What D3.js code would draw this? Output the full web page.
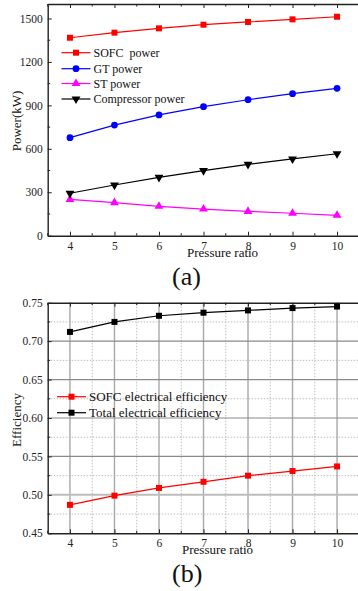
<!DOCTYPE html>
<html>
<head>
<meta charset="utf-8">
<script src="https://cdn.jsdelivr.net/npm/d3@7"></script>
<style>
  body { margin: 0; background: #fff; }
  svg, svg text { font-family: "Liberation Serif", "Times New Roman", Times, serif; }
  svg { display: block; }
</style>
</head>
<body>
<svg id="chart" width="358" height="591"></svg>
<script>
// pressure ratios shared by both panels
var ratios = [4, 5, 6, 7, 8, 9, 10];

// panel (a): power in kW
var sofcPower = [1367, 1402, 1432, 1457, 1476, 1494, 1512];
var gtPower = [677, 764, 834, 891, 939, 981, 1018];
var stPower = [251, 228, 203, 184, 168, 155, 141];
var compPower = [293, 350, 403, 449, 493, 530, 566];
var powerTicks = [0, 300, 600, 900, 1200, 1500];

// panel (b): efficiency
var sofcEff = [0.487, 0.499, 0.509, 0.517, 0.525, 0.531, 0.537];
var totalEff = [0.712, 0.725, 0.733, 0.737, 0.740, 0.743, 0.745];
var effTicks = [0.45, 0.50, 0.55, 0.60, 0.65, 0.70, 0.75];

var svg = d3.select('#chart');
var serif = '"Liberation Serif", "Times New Roman", Times, serif';

function markerPath(shape, size) {
  if (shape === 'square') return d3.symbol().type(d3.symbolSquare).size(size)();
  if (shape === 'circle') return d3.symbol().type(d3.symbolCircle).size(size)();
  // triangle (down one is rotated)
  return d3.symbol().type(d3.symbolTriangle).size(size)();
}

function drawSeries(g, vals, x, y, color, shape, size) {
  var line = d3.line()
    .x(function(d, i) { return x(ratios[i]); })
    .y(function(d) { return y(d); });
  g.append('path')
    .datum(vals)
    .attr('fill', 'none')
    .attr('stroke', color)
    .attr('stroke-width', 1.2)
    .attr('d', line);
  g.selectAll(null)
    .data(vals)
    .enter().append('path')
    .attr('d', markerPath(shape, size))
    .attr('fill', color)
    .attr('transform', function(d, i) {
      var r = shape === 'down' ? ' rotate(180)' : '';
      return 'translate(' + x(ratios[i]) + ',' + y(d) + ')' + r;
    });
}

function legendItem(g, lx, ly, text, color, shape, size, fs) {
  g.append('line')
    .attr('x1', lx).attr('x2', lx + 29)
    .attr('y1', ly).attr('y2', ly)
    .attr('stroke', color).attr('stroke-width', 1.2);
  g.append('path')
    .attr('d', markerPath(shape, size))
    .attr('fill', color)
    .attr('transform', 'translate(' + (lx + 14.5) + ',' + ly + ')' + (shape === 'down' ? ' rotate(180)' : ''));
  g.append('text')
    .attr('x', lx + 32)
    .attr('y', ly + 4)
    .attr('font-size', fs)
    .attr('font-family', serif)
    .attr('fill', '#111')
    .style('white-space', 'pre')
    .text(text);
}

function styleAxis(g) {
  g.attr('font-family', serif);
  g.select('.domain').attr('stroke', '#222').attr('stroke-width', 1.4);
  g.selectAll('.tick line').attr('stroke', '#222').attr('stroke-width', 1);
  g.selectAll('.tick text').attr('font-size', 11.5).attr('fill', '#222')
    .attr('font-family', serif);
}

function minorTicks(g, positions, orient, len) {
  positions.forEach(function(p) {
    if (orient === 'h') {
      g.append('line').attr('x1', p).attr('x2', p).attr('y1', 0).attr('y2', len)
        .attr('stroke', '#222').attr('stroke-width', 1);
    } else {
      g.append('line').attr('y1', p).attr('y2', p).attr('x1', 0).attr('x2', len)
        .attr('stroke', '#222').attr('stroke-width', 1);
    }
  });
}

var left = 47.7, right = 359.3;
var halfTicks = [3.5, 4.5, 5.5, 6.5, 7.5, 8.5, 9.5, 10.5];
var intFmt = d3.format('d');

// ---------- panel (a) ----------
var xa = d3.scaleLinear().domain([3.5, 10.5]).range([left, right]);
var ya = d3.scaleLinear().domain([0, 1600]).range([235.7, 4]);

var ga = svg.append('g');

var xAxisA = ga.append('g')
  .attr('transform', 'translate(0,' + ya(0) + ')')
  .call(d3.axisBottom(xa).tickValues(ratios).tickFormat(intFmt)
    .tickSizeInner(-4).tickSizeOuter(0).tickPadding(6));
styleAxis(xAxisA);
minorTicks(xAxisA, halfTicks.map(xa), 'h', -2.5);

var xTopA = ga.append('g')
  .attr('transform', 'translate(0,' + ya(1600) + ')')
  .call(d3.axisTop(xa).tickValues(ratios).tickSizeInner(-4).tickSizeOuter(0).tickFormat(''));
styleAxis(xTopA);
minorTicks(xTopA, halfTicks.map(xa), 'h', 2.5);

var yAxisA = ga.append('g')
  .attr('transform', 'translate(' + left + ',0)')
  .call(d3.axisLeft(ya).tickValues(powerTicks).tickFormat(intFmt)
    .tickSizeInner(-4).tickSizeOuter(0).tickPadding(5));
styleAxis(yAxisA);
minorTicks(yAxisA, [150, 450, 750, 1050, 1350].map(ya), 'v', 2.5);

drawSeries(ga, sofcPower, xa, ya, '#ff0000', 'square', 36);
drawSeries(ga, gtPower, xa, ya, '#0000ff', 'circle', 36);
drawSeries(ga, stPower, xa, ya, '#ff00ff', 'triangle', 34);
drawSeries(ga, compPower, xa, ya, '#000000', 'down', 34);

legendItem(ga, 61.5, 52.7, 'SOFC  power', '#ff0000', 'square', 36, 12);
legendItem(ga, 61.5, 68.7, 'GT power', '#0000ff', 'circle', 36, 12);
legendItem(ga, 61.5, 83.5, 'ST power', '#ff00ff', 'triangle', 34, 12);
legendItem(ga, 61.5, 99, 'Compressor power', '#000000', 'down', 34, 12);

ga.append('text')
  .attr('transform', 'translate(21,121) rotate(-90)')
  .attr('text-anchor', 'middle')
  .attr('font-size', 13)
  .attr('font-family', serif)
  .attr('fill', '#111')
  .text('Power(kW)');

ga.append('text')
  .attr('x', 187).attr('y', 257)
  .attr('font-size', 13).attr('font-family', serif).attr('fill', '#111')
  .text('Pressure ratio');

ga.append('text')
  .attr('x', 172).attr('y', 285)
  .attr('font-size', 26).attr('font-family', serif).attr('fill', '#111')
  .text('(a)');

// ---------- panel (b) ----------
var xb = d3.scaleLinear().domain([3.5, 10.5]).range([left, right]);
var yb = d3.scaleLinear().domain([0.45, 0.75]).range([533.3, 302.7]);

var gb = svg.append('g');

// grid
var grid = gb.append('g');
halfTicks.slice(1).forEach(function(v) {
  grid.append('line').attr('x1', xb(v)).attr('x2', xb(v)).attr('y1', yb(0.45)).attr('y2', yb(0.75))
    .attr('stroke', '#bdbdbd').attr('stroke-width', 1).attr('stroke-dasharray', '1.5,1.5');
});
[0.475, 0.525, 0.575, 0.625, 0.675, 0.725].forEach(function(v) {
  grid.append('line').attr('x1', left).attr('x2', right).attr('y1', yb(v)).attr('y2', yb(v))
    .attr('stroke', '#bdbdbd').attr('stroke-width', 1).attr('stroke-dasharray', '1.5,1.5');
});
ratios.forEach(function(v) {
  grid.append('line').attr('x1', xb(v)).attr('x2', xb(v)).attr('y1', yb(0.45)).attr('y2', yb(0.75))
    .attr('stroke', '#a8a8a8').attr('stroke-width', 1.4);
});
effTicks.slice(1, -1).forEach(function(v) {
  grid.append('line').attr('x1', left).attr('x2', right).attr('y1', yb(v)).attr('y2', yb(v))
    .attr('stroke', v === 0.5 ? '#bcbcbc' : '#8a8a8a').attr('stroke-width', v === 0.5 ? 2 : 1.2);
});

var xAxisB = gb.append('g')
  .attr('transform', 'translate(0,' + yb(0.45) + ')')
  .call(d3.axisBottom(xb).tickValues(ratios).tickFormat(intFmt)
    .tickSizeInner(-4).tickSizeOuter(0).tickPadding(5.5));
styleAxis(xAxisB);
minorTicks(xAxisB, halfTicks.map(xb), 'h', -2.5);

var xTopB = gb.append('g')
  .attr('transform', 'translate(0,' + yb(0.75) + ')')
  .call(d3.axisTop(xb).tickValues(ratios).tickSizeInner(-4).tickSizeOuter(0).tickFormat(''));
styleAxis(xTopB);
minorTicks(xTopB, halfTicks.map(xb), 'h', 2.5);

var yAxisB = gb.append('g')
  .attr('transform', 'translate(' + left + ',0)')
  .call(d3.axisLeft(yb).tickValues(effTicks).tickSizeInner(-4).tickSizeOuter(0).tickPadding(5)
    .tickFormat(d3.format('.2f')));
styleAxis(yAxisB);
minorTicks(yAxisB, [0.475, 0.525, 0.575, 0.625, 0.675, 0.725].map(yb), 'v', 2.5);

drawSeries(gb, totalEff, xb, yb, '#000000', 'square', 36);
drawSeries(gb, sofcEff, xb, yb, '#ff0000', 'square', 36);

legendItem(gb, 57, 396.7, 'SOFC electrical efficiency', '#ff0000', 'square', 36, 13);
legendItem(gb, 57, 412.7, 'Total electrical efficiency', '#000000', 'square', 36, 13);

gb.append('text')
  .attr('transform', 'translate(21,420) rotate(-90)')
  .attr('text-anchor', 'middle')
  .attr('font-size', 13)
  .attr('font-family', serif)
  .attr('fill', '#111')
  .text('Efficiency');

gb.append('text')
  .attr('x', 182).attr('y', 554)
  .attr('font-size', 13).attr('font-family', serif).attr('fill', '#111')
  .text('Pressure ratio');

gb.append('text')
  .attr('x', 172).attr('y', 582)
  .attr('font-size', 26).attr('font-family', serif).attr('fill', '#111')
  .text('(b)');
</script>
</body>
</html>
